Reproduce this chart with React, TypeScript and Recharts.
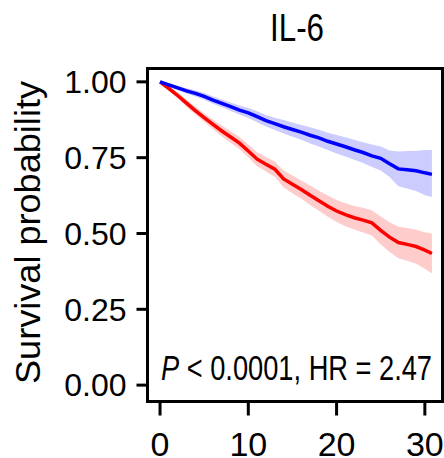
import React from 'react';
import {
  ComposedChart,
  Line,
  Area,
  XAxis,
  YAxis,
  ReferenceArea,
  Customized,
} from 'recharts';

// follow-up time (months) and survival estimates
const times = [0, 1, 2, 3, 4, 5, 6, 7, 8, 9, 10, 11, 12, 13, 14, 15, 16, 17, 18, 19, 20, 21, 22, 23, 24, 25, 26, 27, 28, 29, 30, 30.8];

const lowSurv = [1.0, 0.99, 0.98, 0.97, 0.962, 0.952, 0.94, 0.929, 0.918, 0.907, 0.898, 0.885, 0.872, 0.862, 0.852, 0.843, 0.834, 0.824, 0.815, 0.804, 0.795, 0.786, 0.776, 0.767, 0.756, 0.748, 0.73, 0.713, 0.71, 0.707, 0.7, 0.695];
const lowUpper = [1.0, 0.995, 0.987, 0.979, 0.972, 0.963, 0.952, 0.942, 0.932, 0.922, 0.914, 0.903, 0.891, 0.882, 0.874, 0.866, 0.858, 0.85, 0.842, 0.832, 0.825, 0.817, 0.809, 0.801, 0.793, 0.787, 0.774, 0.77, 0.772, 0.773, 0.775, 0.775];
const lowLower = [1.0, 0.985, 0.973, 0.961, 0.952, 0.941, 0.928, 0.916, 0.904, 0.892, 0.881, 0.867, 0.853, 0.841, 0.83, 0.819, 0.809, 0.797, 0.787, 0.775, 0.764, 0.754, 0.743, 0.732, 0.719, 0.708, 0.686, 0.656, 0.648, 0.64, 0.626, 0.62];

const highSurv = [1.0, 0.978, 0.955, 0.93, 0.905, 0.882, 0.86, 0.838, 0.818, 0.798, 0.772, 0.745, 0.728, 0.712, 0.68, 0.662, 0.645, 0.626, 0.608, 0.59, 0.574, 0.562, 0.552, 0.544, 0.535, 0.51, 0.488, 0.47, 0.464, 0.457, 0.445, 0.434];
const highUpper = [1.0, 0.985, 0.965, 0.942, 0.918, 0.896, 0.876, 0.856, 0.837, 0.818, 0.793, 0.768, 0.752, 0.737, 0.708, 0.691, 0.675, 0.658, 0.641, 0.625, 0.61, 0.6, 0.591, 0.585, 0.577, 0.556, 0.537, 0.522, 0.518, 0.512, 0.504, 0.5];
const highLower = [1.0, 0.971, 0.945, 0.918, 0.892, 0.868, 0.844, 0.82, 0.799, 0.778, 0.751, 0.722, 0.704, 0.687, 0.652, 0.633, 0.615, 0.594, 0.575, 0.555, 0.538, 0.524, 0.513, 0.503, 0.493, 0.464, 0.439, 0.418, 0.41, 0.4, 0.384, 0.368];

const xTicks = [0, 10, 20, 30];
const yTicks = [0, 0.25, 0.5, 0.75, 1];

const X_DOMAIN: [number, number] = [-1.42, 32];
const Y_DOMAIN: [number, number] = [-0.054, 1.044];
const FONT = 'Liberation Sans, Arial, Helvetica, sans-serif';

const data = times.map((t, i) => ({
  time: t,
  low: lowSurv[i],
  lowBand: [lowLower[i], lowUpper[i]],
  high: highSurv[i],
  highBand: [highLower[i], highUpper[i]],
}));

const Annotations = () => (
  <g fontFamily={FONT} fill="#000">
    <text x={297} y={41} fontSize={38} textAnchor="middle" textLength={54} lengthAdjust="spacingAndGlyphs">
      IL-6
    </text>
    <text transform="rotate(-90)" x={-232.5} y={40} fontSize={35} textAnchor="middle" textLength={303} lengthAdjust="spacingAndGlyphs">
      Survival probability
    </text>
    <text x={161} y={380} fontSize={35} textLength={271} lengthAdjust="spacingAndGlyphs">
      <tspan fontStyle="italic">P</tspan> &lt; 0.0001, HR = 2.47
    </text>
  </g>
);

export default function App() {
  return (
    <div style={{ position: 'absolute', left: 0, top: 0, background: '#fff' }}>
      <ComposedChart width={444} height={458} data={data} margin={{ top: 68.5, right: 1.5, bottom: 0, left: 0 }}>
        <XAxis
          dataKey="time"
          type="number"
          domain={X_DOMAIN}
          allowDataOverflow
          ticks={xTicks}
          height={56.5}
          axisLine={false}
          tickLine={{ stroke: '#000', strokeWidth: 3 }}
          tickSize={14}
          tickMargin={16}
          tick={{ fill: '#000', fontSize: 34, fontFamily: FONT }}
        />
        <YAxis
          type="number"
          domain={Y_DOMAIN}
          allowDataOverflow
          ticks={yTicks}
          tickFormatter={(v: number) => v.toFixed(2)}
          width={147.5}
          axisLine={false}
          tickLine={{ stroke: '#000', strokeWidth: 3 }}
          tickSize={11}
          tickMargin={10}
          tick={{ fill: '#000', fontSize: 32, fontFamily: FONT }}
        />
        <Area dataKey="lowBand" type="linear" stroke="none" fill="#0000ff" fillOpacity={0.2} isAnimationActive={false} />
        <Area dataKey="highBand" type="linear" stroke="none" fill="#ff0000" fillOpacity={0.2} isAnimationActive={false} />
        <Line dataKey="high" type="linear" stroke="#ff0000" strokeWidth={3.5} dot={false} isAnimationActive={false} />
        <Line dataKey="low" type="linear" stroke="#0000ff" strokeWidth={3.5} dot={false} isAnimationActive={false} />
        <ReferenceArea
          x1={X_DOMAIN[0]}
          x2={X_DOMAIN[1]}
          y1={Y_DOMAIN[0]}
          y2={Y_DOMAIN[1]}
          fill="none"
          stroke="#000"
          strokeWidth={3}
          ifOverflow="visible"
        />
        <Customized component={Annotations} />
      </ComposedChart>
    </div>
  );
}
